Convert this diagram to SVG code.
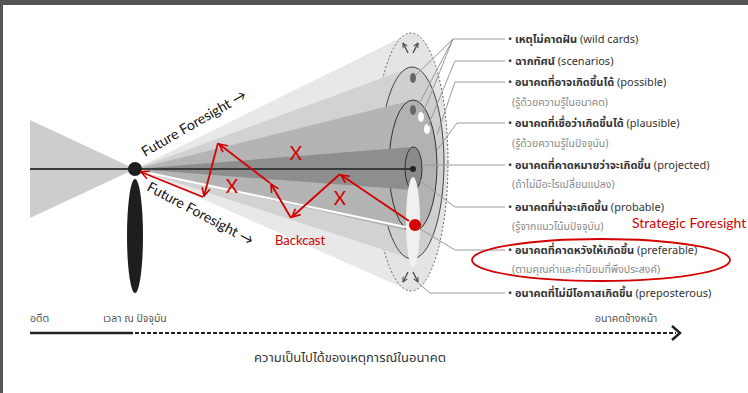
<svg xmlns="http://www.w3.org/2000/svg" width="748" height="393" viewBox="0 0 748 393">
<defs>
<style>
.th{font-family:"Noto Sans Thai","Noto Sans Thai UI","Loma","Garuda","Noto Sans","DejaVu Sans",sans-serif;}
.lab{font-size:11px;fill:#333;}
.lab tspan.b{font-weight:bold;}
.sub{font-size:10.5px;fill:#8a8a8a;}
.ax{font-size:10.5px;fill:#555;}
.lead{fill:none;stroke:#9a9a9a;stroke-width:1;}
.red{fill:none;stroke:#d40000;stroke-width:1.8;marker-end:url(#rh);}
.rt{font-family:Lato,"Open Sans","Liberation Sans",sans-serif;fill:#d40000;}
.ff{font-family:Lato,"Open Sans","Liberation Sans",sans-serif;font-size:14px;fill:#111;}
</style>
<marker id="rh" viewBox="0 0 10 10" refX="9" refY="5" markerWidth="10" markerHeight="10" markerUnits="userSpaceOnUse" orient="auto">
<path d="M1,1 L9,5 L1,9" fill="none" stroke="#d40000" stroke-width="1.6"/>
</marker>
<marker id="gh" viewBox="0 0 10 10" refX="9" refY="5" markerWidth="6" markerHeight="6" markerUnits="userSpaceOnUse" orient="auto">
<path d="M1,1 L9,5 L1,9" fill="none" stroke="#444" stroke-width="1.6"/>
</marker>
</defs>
<rect x="0" y="0" width="748" height="393" fill="#ffffff"/>
<rect x="0" y="0" width="748" height="5" fill="#555"/>
<rect x="0" y="0" width="3" height="393" fill="#555"/>

<g id="past-cone">
<polygon points="30,120 135,169 30,218" fill="#cdcdcd"/>
</g>

<g id="future-cone">
<polygon points="135,169 410,33 410,291" fill="#e8e8e8"/>
<ellipse cx="411" cy="162" rx="37" ry="129" fill="#e4e4e4" stroke="#666" stroke-width="1" stroke-dasharray="2,2"/>
<polygon points="135,169 412,67 412,259" fill="#d2d2d2"/>
<ellipse cx="412" cy="163" rx="32" ry="96" fill="#cfcfcf" stroke="#444" stroke-width="1"/>
<polygon points="135,169 413,100 413,232" fill="#b4b4b4"/>
<ellipse cx="413" cy="166" rx="24" ry="66" fill="#b2b2b2" stroke="#333" stroke-width="1"/>
<polygon points="135,169 413,147 413,190" fill="#8e8e8e"/>
<ellipse cx="413.5" cy="168.5" rx="8.5" ry="21.5" fill="#8a8a8a" stroke="#333" stroke-width="1"/>
<ellipse cx="413" cy="222" rx="7" ry="45" fill="#f0f0f0"/>
<line x1="30" y1="169" x2="413" y2="169" stroke="#3a3a3a" stroke-width="1.8"/>
<line x1="135" y1="170" x2="410" y2="228" stroke="#ffffff" stroke-width="2"/>
<circle cx="413" cy="169" r="3" fill="#222"/>
<ellipse cx="413" cy="78" rx="3" ry="5" fill="#666"/>
<ellipse cx="413" cy="110" rx="3" ry="5" fill="#666"/>
<ellipse cx="421" cy="117" rx="3" ry="5" fill="#fff"/>
<ellipse cx="427" cy="129" rx="3" ry="5" fill="#fff"/>
<circle cx="415" cy="225" r="6" fill="#d40000"/>
<line x1="408" y1="53" x2="403" y2="43" stroke="#444" stroke-width="1.2" marker-end="url(#gh)"/>
<line x1="413" y1="53" x2="418" y2="43" stroke="#444" stroke-width="1.2" marker-end="url(#gh)"/>
<line x1="408" y1="272" x2="403" y2="282" stroke="#444" stroke-width="1.2" marker-end="url(#gh)"/>
<line x1="413" y1="272" x2="418" y2="282" stroke="#444" stroke-width="1.2" marker-end="url(#gh)"/>
</g>

<g id="present">
<circle cx="135" cy="169" r="7" fill="#1e1e1e"/>
<ellipse cx="135" cy="236" rx="8" ry="57" fill="#1e1e1e"/>
</g>

<g id="connectors">
<polyline class="lead" points="505,39 453,39 416,75"/>
<polyline class="lead" points="453,39 418,106"/>
<polyline class="lead" points="453,39 423,113"/>
<polyline class="lead" points="505,61 455,61 428,126"/>
<polyline class="lead" points="505,82 455,82 437,135"/>
<polyline class="lead" points="505,123 457,123 437,150"/>
<polyline class="lead" points="505,165 422,165"/>
<polyline class="lead" points="505,207 455,207 419,180"/>
<polyline class="lead" points="505,250 455,250 420,229"/>
<polyline class="lead" points="505,293 430,293 418,283"/>
<polyline class="red" points="409,221 341,175"/>
<polyline class="red" points="340,174 292,217"/>
<polyline class="red" points="291,218 271,184"/>
<polyline class="red" points="270,183 219,144"/>
<polyline class="red" points="218,143 204,196"/>
<polyline class="red" points="203,197 141,172"/>
</g>

<g id="labels" class="th">
<text class="lab" x="508" y="43">• <tspan class="b">เหตุไม่คาดฝัน</tspan> (wild cards)</text>
<text class="lab" x="508" y="65">• <tspan class="b">ฉากทัศน์</tspan> (scenarios)</text>
<text class="lab" x="508" y="86">• <tspan class="b">อนาคตที่อาจเกิดขึ้นได้</tspan> (possible)</text>
<text class="sub" x="512" y="106">(รู้ด้วยความรู้ในอนาคต)</text>
<text class="lab" x="508" y="127">• <tspan class="b">อนาคตที่เชื่อว่าเกิดขึ้นได้</tspan> (plausible)</text>
<text class="sub" x="512" y="147">(รู้ด้วยความรู้ในปัจจุบัน)</text>
<text class="lab" x="508" y="169">• <tspan class="b">อนาคตที่คาดหมายว่าจะเกิดขึ้น</tspan> (projected)</text>
<text class="sub" x="512" y="188">(ถ้าไม่มีอะไรเปลี่ยนแปลง)</text>
<text class="lab" x="508" y="211">• <tspan class="b">อนาคตที่น่าจะเกิดขึ้น</tspan> (probable)</text>
<text class="sub" x="512" y="230">(รู้จากแนวโน้มปัจจุบัน)</text>
<text class="lab" x="508" y="254">• <tspan class="b">อนาคตที่คาดหวังให้เกิดขึ้น</tspan> (preferable)</text>
<text class="sub" x="512" y="273">(ตามคุณค่าและค่านิยมที่พึงประสงค์)</text>
<text class="lab" x="508" y="297">• <tspan class="b">อนาคตที่ไม่มีโอกาสเกิดขึ้น</tspan> (preposterous)</text>
</g>

<g id="annotations">
<ellipse cx="601" cy="260" rx="129" ry="21" fill="none" stroke="#d40000" stroke-width="1.8"/>
<text class="rt" x="632" y="228" font-size="14">Strategic Foresight</text>
<text class="rt" x="275" y="245" font-size="13">Backcast</text>
<text class="rt" x="296" y="160" font-size="19" text-anchor="middle">X</text>
<text class="rt" x="232" y="193" font-size="19" text-anchor="middle">X</text>
<text class="rt" x="340" y="205" font-size="19" text-anchor="middle">X</text>
<text class="ff" x="145" y="157" transform="rotate(-30 145 157)">Future Foresight →</text>
<text class="ff" x="146" y="190" transform="rotate(28 146 190)">Future Foresight →</text>
</g>

<g id="axis">
<line x1="30" y1="333" x2="133" y2="333" stroke="#222" stroke-width="2.5"/>
<line x1="135" y1="333" x2="676" y2="333" stroke="#222" stroke-width="2" stroke-dasharray="4,2"/>
<polyline points="672,326 680,333 672,340" fill="none" stroke="#222" stroke-width="2.5"/>
<text class="th ax" x="30" y="322">อดีต</text>
<text class="th ax" x="103" y="322">เวลา ณ ปัจจุบัน</text>
<text class="th ax" x="595" y="322">อนาคตข้างหน้า</text>
<text class="th" x="350" y="362" font-size="13" fill="#333" text-anchor="middle">ความเป็นไปได้ของเหตุการณ์ในอนาคต</text>
</g>
</svg>
